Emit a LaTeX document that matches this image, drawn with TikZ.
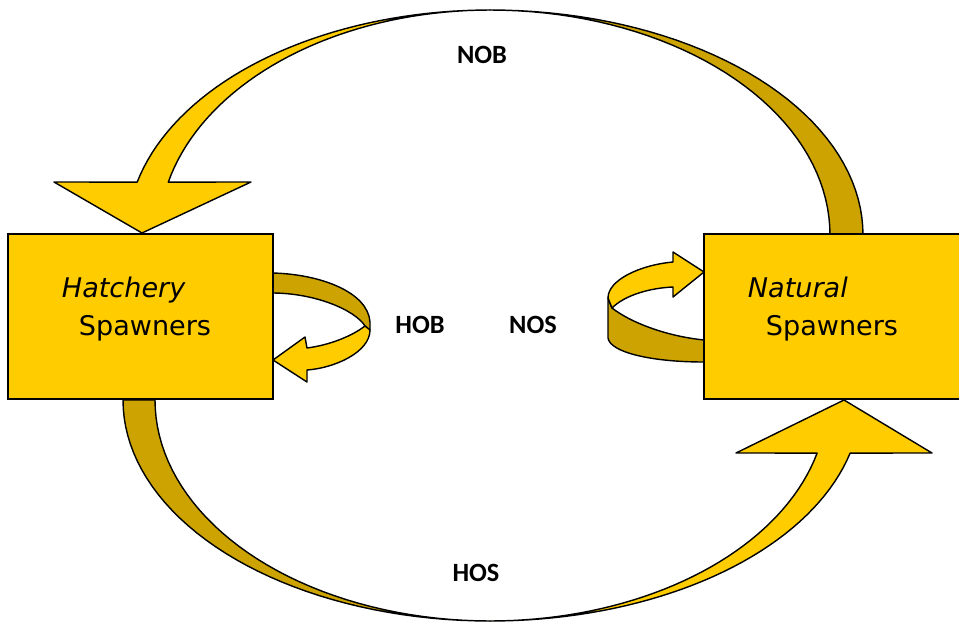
\documentclass[tikz,border=0pt]{standalone}
\usepackage{fontspec}
\setmainfont{DejaVu Sans}
\newfontfamily\flowfont{Carlito}
\definecolor{gold}{RGB}{255,204,0}
\definecolor{goldshade}{RGB}{204,163,0}

\begin{document}
\begin{tikzpicture}[x=0.2mm, y=-0.2mm,
        spawnbox/.style={draw, line width=1pt, fill=gold, minimum width=53mm, minimum height=33mm,
            align=left, inner sep=0pt, font=\fontsize{15.4}{21.5}\selectfont},
        flowlbl/.style={inner sep=0pt, font=\flowfont\bfseries\fontsize{15}{18}\selectfont},
        frontface/.style={draw, fill=gold, line width=0.8pt, line join=round},
        backface/.style={draw, fill=goldshade, line width=0.8pt, line join=round}]
        \useasboundingbox (0,0) rectangle (959,624);

        % NOB: natural -> hatchery, over the top
        \filldraw[backface] plot[domain=0:90, samples=40, variable=\t] ({490+373*cos(\t)},{235-225*sin(\t)})
            -- plot[domain=90:0, samples=40, variable=\t] ({490+340*cos(\t)},{235-225*sin(\t)}) -- cycle;
        \filldraw[frontface] plot[domain=90:166.4, samples=40, variable=\t] ({490+363*cos(\t)},{235-225*sin(\t)})
            -- (54,182) -- (142,233) -- (251,182)
            -- plot[domain=166.4:90, samples=40, variable=\t] ({490+331*cos(\t)},{235-225*sin(\t)}) -- cycle;

        % HOS: hatchery -> natural, under the bottom
        \filldraw[backface] plot[domain=180:270, samples=40, variable=\t] ({490+367*cos(\t)},{400-221*sin(\t)})
            -- plot[domain=270:180, samples=40, variable=\t] ({490+335*cos(\t)},{400-221*sin(\t)}) -- cycle;
        \filldraw[frontface] plot[domain=270:346.1, samples=40, variable=\t] ({490+371*cos(\t)},{400-221*sin(\t)})
            -- (932,453) -- (844,400) -- (736,453)
            -- plot[domain=346.1:270, samples=40, variable=\t] ({490+337*cos(\t)},{400-221*sin(\t)}) -- cycle;

        % HOB loop
        \filldraw[backface] (272,273) .. controls (320,274) and (368,292) .. (370,322) -- (370,330)
            -- (365,326) .. controls (355,310) and (315,293) .. (272,293) -- cycle;
        \filldraw[frontface] (307,348) -- (305,337) -- (273,360) -- (307,382) -- (307,370)
            .. controls (335,368) and (370,352) .. (370,330) -- (365,326)
            .. controls (352,336) and (330,345) .. (307,348) -- cycle;

        % NOS loop
        \filldraw[backface] (612,308) .. controls (630,322) and (665,336) .. (704,340) -- (704,362)
            .. controls (650,362) and (610,352) .. (608,338) -- (608,298) -- cycle;
        \filldraw[frontface] (673,262) -- (673,252) -- (704,272) -- (673,297) -- (673,287)
            .. controls (650,288) and (625,295) .. (612,308) -- (608,298)
            .. controls (608,280) and (640,265) .. (673,262) -- cycle;

        % Boxes
        \node[spawnbox] (hatch) at (140.5,316.5) {\textit{Hatchery}\\\hspace*{3.4mm}Spawners\hspace*{1.6mm}\rule[-4.1mm]{0pt}{0pt}};
        \node[spawnbox, minimum width=51.6mm] (natural) at (833,316.5) {\textit{Natural}\\\hspace*{3.6mm}Spawners\hspace*{4mm}\rule[-4.1mm]{0pt}{0pt}};

        % Flow labels
        \node[flowlbl] (nob) at (482,55) {NOB};
        \node[flowlbl] (hob) at (420,325) {HOB};
        \node[flowlbl] (nos) at (533,325) {NOS};
        \node[flowlbl] (hos) at (476,573) {HOS};
\end{tikzpicture}
\end{document}
